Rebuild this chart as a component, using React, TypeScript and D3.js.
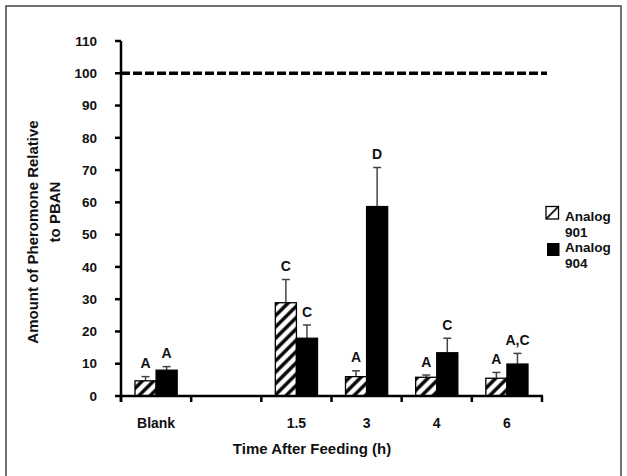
import React from "react";
import * as d3 from "d3";

// categories on the x axis (the second slot is an empty gap)
const categories = ["Blank", "", "1.5", "3", "4", "6"];
const seriesNames = ["Analog 901", "Analog 904"];
// mean values and upper error (mean + SE)
const analog901 = [4.7, null, 28.9, 6.0, 5.8, 5.5];
const analog901Err = [6.0, null, 36.1, 7.8, 6.5, 7.3];
const analog904 = [8.0, null, 17.9, 58.7, 13.4, 9.9];
const analog904Err = [9.1, null, 22.0, 70.8, 17.9, 13.2];
const letters901 = ["A", "", "C", "A", "A", "A"];
const letters904 = ["A", "", "C", "D", "C", "A,C"];
const yTicks = [0, 10, 20, 30, 40, 50, 60, 70, 80, 90, 100, 110];
const referenceLevel = 100;

const W = 627;
const H = 476;
const FONT = "'Liberation Sans', Arial, sans-serif";

export default function App() {
  const x = d3.scaleBand<string>().domain(categories.map((_, i) => String(i))).range([121, 542]).padding(0);
  const inner = d3.scaleBand<string>().domain(seriesNames).range([14, x.bandwidth() - 14]).padding(0);
  const y = d3.scaleLinear().domain([0, 110]).range([396, 41]);

  const series = [
    { name: seriesNames[0], vals: analog901, errs: analog901Err, letters: letters901, fill: "url(#hatch)" },
    { name: seriesNames[1], vals: analog904, errs: analog904Err, letters: letters904, fill: "#000" },
  ];

  const bounds = categories.map((_, i) => x(String(i)) as number).concat([x.range()[1]]);

  return (
    <svg width={W} height={H} style={{ display: "block", position: "absolute", left: 0, top: 0 }} fontFamily={FONT}>
      <defs>
        <pattern id="hatch" patternUnits="userSpaceOnUse" width="8" height="8" patternTransform="rotate(45)">
          <rect width="8" height="8" fill="#fff" />
          <line x1="2" y1="0" x2="2" y2="8" stroke="#000" strokeWidth="3.4" />
        </pattern>
        <pattern id="hatchLegend" patternUnits="userSpaceOnUse" width="20" height="20" patternTransform="rotate(45)">
          <rect width="20" height="20" fill="#fff" />
          <line x1="0" y1="0" x2="0" y2="20" stroke="#000" strokeWidth="3.5" />
        </pattern>
      </defs>
      <rect x={0} y={0} width={W} height={H} fill="#fff" />
      <rect x={6} y={6} width={615} height={490} fill="none" stroke="#444" strokeWidth={1.5} />

      {/* bars */}
      {series.map((s) =>
        s.vals.map((v, i) => {
          if (v == null) return null;
          const bx = (x(String(i)) as number) + (inner(s.name) as number);
          const bw = inner.bandwidth();
          const cx = bx + bw / 2;
          const top = y(v);
          const errTop = y(s.errs[i] as number);
          return (
            <g key={s.name + i}>
              <line x1={cx} x2={cx} y1={top} y2={errTop} stroke="#444" strokeWidth={1.5} />
              <line x1={cx - 4} x2={cx + 4} y1={errTop} y2={errTop} stroke="#444" strokeWidth={1.5} />
              <rect x={bx} y={top} width={bw} height={y(0) - top} fill={s.fill} stroke="#000" strokeWidth={1.3} />
              <text x={cx} y={errTop - 8.5} textAnchor="middle" fontSize={14} fontWeight="bold" fill="#111">
                {s.letters[i]}
              </text>
            </g>
          );
        })
      )}

      {/* reference line at 100 */}
      <line x1={121} x2={547} y1={y(referenceLevel)} y2={y(referenceLevel)} stroke="#000" strokeWidth={3.5} strokeDasharray="9,3" />

      {/* y axis */}
      <line x1={121} x2={121} y1={y(110)} y2={402} stroke="#000" strokeWidth={2.5} />
      {yTicks.map((t) => (
        <g key={t}>
          <line x1={115} x2={121} y1={y(t)} y2={y(t)} stroke="#000" strokeWidth={2.5} />
          <text x={97} y={y(t)} dy="0.35em" textAnchor="end" fontSize={13.5} fontWeight="bold" fill="#111">
            {t}
          </text>
        </g>
      ))}

      {/* x axis */}
      <line x1={121} x2={543} y1={y(0)} y2={y(0)} stroke="#000" strokeWidth={2.5} />
      {bounds.map((bx, i) => (
        <line key={i} x1={bx} x2={bx} y1={y(0)} y2={402} stroke="#000" strokeWidth={2.5} />
      ))}
      {categories.map((c, i) => (
        <text key={i} x={(x(String(i)) as number) + x.bandwidth() / 2} y={428} textAnchor="middle" fontSize={14} fontWeight="bold" fill="#111">
          {c}
        </text>
      ))}

      <text x={312} y={454} textAnchor="middle" fontSize={15} fontWeight="bold" fill="#111">
        Time After Feeding (h)
      </text>
      <text transform="translate(38,232) rotate(-90)" textAnchor="middle" fontSize={15} fontWeight="bold" fill="#111">
        Amount of Pheromone Relative
      </text>
      <text transform="translate(60,212) rotate(-90)" textAnchor="middle" fontSize={15} fontWeight="bold" fill="#111">
        to PBAN
      </text>

      {/* legend */}
      <rect x={546} y={206.5} width={12.5} height={12.5} fill="url(#hatchLegend)" stroke="#000" strokeWidth={1.3} />
      <text x={565} y={221} fontSize={13.5} fontWeight="bold" fill="#111">Analog</text>
      <text x={565} y={236.5} fontSize={13.5} fontWeight="bold" fill="#111">901</text>
      <rect x={547} y={243} width={12.5} height={13} fill="#000" />
      <text x={565} y={252} fontSize={13.5} fontWeight="bold" fill="#111">Analog</text>
      <text x={565} y={267.5} fontSize={13.5} fontWeight="bold" fill="#111">904</text>
    </svg>
  );
}
